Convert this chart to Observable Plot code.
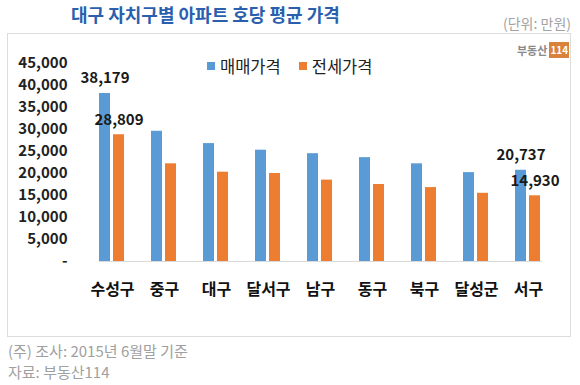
<!DOCTYPE html>
<html><head><meta charset="utf-8">
<script src="https://cdn.jsdelivr.net/npm/d3@7"></script>
<script src="https://cdn.jsdelivr.net/npm/@observablehq/plot@0.6"></script>
<style>
body{margin:0;background:#fff;font-family:"Noto Sans CJK KR","Noto Sans",sans-serif;}
#wrap{position:relative;width:580px;height:385px;overflow:hidden;background:#fff;}
#title{position:absolute;left:71px;top:1px;font-size:18px;font-weight:bold;color:#2a5fae;white-space:nowrap;}
#unit{position:absolute;right:9px;top:13px;font-size:14px;color:#a3a3a3;white-space:nowrap;}
#box{position:absolute;left:7px;top:33px;width:562px;height:302px;border:1px solid #dcdcdc;}
#chart{position:absolute;left:0;top:34px;}
#legend{position:absolute;left:207px;top:54px;font-size:16.5px;color:#222;white-space:nowrap;display:flex;align-items:center;}
#legend span.sw{display:inline-block;width:8px;height:8px;margin-right:5px;}
#legend span.lb{margin-right:18px;}
#logo{position:absolute;left:517px;top:42px;display:flex;align-items:center;white-space:nowrap;}
#logo .t{font-size:11px;font-weight:bold;color:#8a8a8a;margin-right:2px;}
#logo .b{background:#d9823b;color:#fff;font-size:10px;font-weight:bold;padding:1px 1px;line-height:14px;}
#foot{position:absolute;left:8px;top:340px;font-size:15px;color:#a0a0a0;line-height:21px;white-space:nowrap;}
</style></head><body>
<div id="wrap">
  <div id="title">대구 자치구별 아파트 호당 평균 가격</div>
  <div id="unit">(단위: 만원)</div>
  <div id="box"></div>
  <div id="chart"></div>
  <div id="legend"></div>
  <div id="logo"><span class="t">부동산</span><span class="b">114</span></div>
  <div id="foot">(주) 조사: 2015년 6월말 기준<br>자료: 부동산114</div>
</div>
<script>
const districts = ["수성구","중구","대구","달서구","남구","동구","북구","달성군","서구"];
const series = ["매매가격","전세가격"];
const saleValues = [38179, 29600, 26800, 25300, 24500, 23600, 22200, 20200, 20737];
const jeonseValues = [28809, 22200, 20300, 20000, 18500, 17500, 16800, 15500, 14930];
const labeledDistricts = ["수성구","서구"];
const yTicks = [0,5000,10000,15000,20000,25000,30000,35000,40000,45000];
const colors = ["#5b9bd5","#ed7d31"];

const data = [];
districts.forEach((d,i)=>{
  data.push({district:d, series:series[0], value:saleValues[i]});
  data.push({district:d, series:series[1], value:jeonseValues[i]});
});
const labelData = data.filter(r=>labeledDistricts.includes(r.district));

const fmt = d3.format(",");
const chart = Plot.plot({
  width:580, height:300,
  marginLeft:82, marginRight:22, marginTop:29, marginBottom:73,
  style:{fontFamily:'"Noto Sans CJK KR","Noto Sans",sans-serif', background:"transparent", overflow:"visible"},
  fx:{domain:districts, paddingInner:0.5, paddingOuter:0.25, label:null},
  x:{domain:series, paddingInner:0.2, paddingOuter:0, axis:null},
  y:{domain:[0,45000], label:null},
  color:{domain:series, range:colors},
  marks:[
    Plot.frame({anchor:"bottom", stroke:"#d9d9d9", strokeWidth:1, facet:"super"}),
    Plot.barY(data, {fx:"district", x:"series", y:"value", fill:"series"}),
    Plot.text(labelData, {fx:"district", x:"series", y:"value", text:d=>fmt(d.value), dy:-15, fontSize:15, fontWeight:"bold", fill:"#1a1a1a"}),
    Plot.axisY({ticks:yTicks, tickFormat:d=>d===0?"-":fmt(d), tickSize:0, tickPadding:32, fontSize:15, fontWeight:"bold", fill:"#222", label:null}),
    Plot.axisFx({anchor:"bottom", tickSize:0, tickPadding:22, fontSize:16, fontWeight:"bold", fill:"#111", label:null})
  ]
});
document.getElementById("chart").appendChild(chart);

const lg = document.getElementById("legend");
series.forEach((s,i)=>{
  const sw = document.createElement("span"); sw.className="sw"; sw.style.background=colors[i];
  const lb = document.createElement("span"); lb.className="lb"; lb.textContent=s;
  lg.appendChild(sw); lg.appendChild(lb);
});
</script>
</body></html>
